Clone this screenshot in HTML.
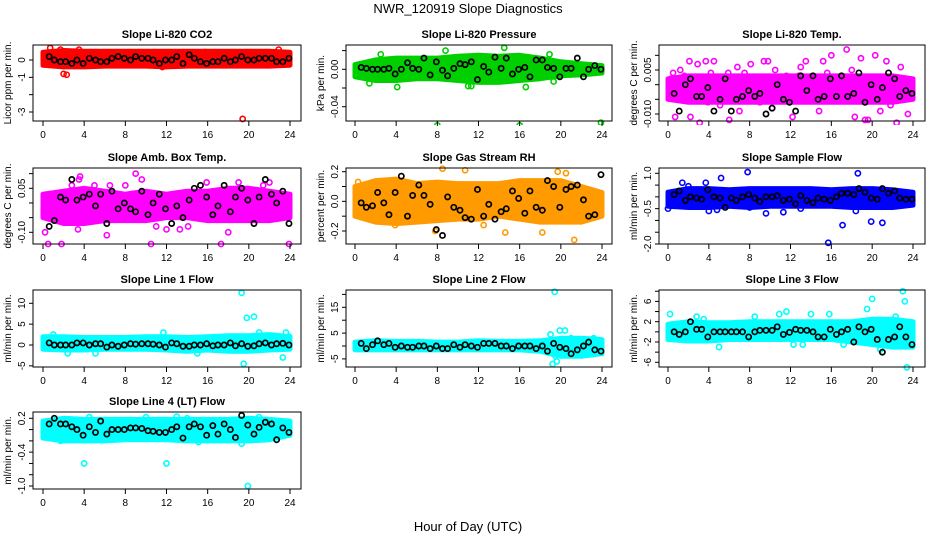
<!DOCTYPE html>
<html><head><meta charset="utf-8"><style>
body{margin:0;background:#fff;}
svg{display:block;font-family:"Liberation Sans",sans-serif;}
</style></head><body>
<svg id="chart" width="936" height="540" viewBox="0 0 936 540" xmlns="http://www.w3.org/2000/svg">
<rect width="936" height="540" fill="#fff"/>
<text x="468" y="13" text-anchor="middle" font-size="13">NWR_120919  Slope Diagnostics</text>
<text x="468" y="531" text-anchor="middle" font-size="13">Hour of Day (UTC)</text>
</svg>
<script>
const xTickVals = [0,4,8,12,16,20,24];
const bandHours = [0,2,4,6,8,10,12,14,16,18,20,22,24];
const blackHours = [0.6,1.1,1.7,2.2,2.8,3.3,3.9,4.5,5.1,5.6,6.2,6.7,7.3,7.9,8.5,9.0,9.6,10.2,10.7,11.3,11.9,12.5,13.0,13.6,14.2,14.7,15.3,15.9,16.5,17.0,17.6,18.2,18.7,19.3,19.9,20.5,21.0,21.6,22.2,22.7,23.3,23.9];

const p1Hi=[0.45,0.55,0.5,0.5,0.5,0.5,0.5,0.5,0.5,0.5,0.5,0.5,0.45];
const p1Lo=[-0.3,-0.4,-0.4,-0.35,-0.35,-0.35,-0.4,-0.35,-0.35,-0.35,-0.35,-0.35,-0.3];
const p1OutX=[0.7,1.7,2.0,2.3,3.5,19.4,22.9,11.6,15.8];
const p1OutY=[0.7,0.6,-0.8,-0.85,0.6,-3.4,0.6,-0.4,0.45];
const p1Black=[0.2,0.0,-0.1,-0.1,-0.2,0.0,-0.2,0.1,0.0,-0.1,-0.1,0.1,0.2,0.1,0.0,0.2,0.1,0.1,0.0,-0.2,0.0,0.0,0.2,-0.2,0.3,0.1,-0.1,-0.2,-0.1,-0.1,0.1,-0.1,0.0,0.2,0.0,0.0,0.1,0.1,0.1,-0.1,-0.1,0.1];

const p2Hi=[0.005,0.01,0.012,0.012,0.012,0.014,0.015,0.014,0.015,0.012,0.008,0.006,0.004];
const p2Lo=[-0.008,-0.012,-0.012,-0.01,-0.01,-0.012,-0.014,-0.014,-0.012,-0.01,-0.007,-0.006,-0.004];
const p2OutX=[8,16,23.9,4.1,11.0,11.3,14.5,8.8,16.6,2.5,18.9,19.3,1.4];
const p2OutY=[-0.06,-0.06,-0.057,-0.019,-0.018,-0.018,0.023,0.02,-0.019,0.016,0.016,-0.013,-0.015];
const p2Black=[0.002,0.001,0.0,0.0,0.0,0.001,-0.005,0.0,0.007,0.001,0.0,0.012,-0.006,0.008,-0.001,-0.007,0.001,0.006,0.005,0.008,-0.011,0.003,-0.003,0.013,0.001,0.012,-0.005,0.0,0.002,-0.008,0.01,0.01,0.002,0.001,-0.008,0.001,0.001,0.012,-0.008,0.0,0.004,0.0];

const p3Hi=[0.002,0.003,0.003,0.003,0.003,0.003,0.003,0.003,0.003,0.003,0.003,0.003,0.002];
const p3Lo=[-0.005,-0.006,-0.006,-0.006,-0.006,-0.006,-0.006,-0.006,-0.006,-0.006,-0.006,-0.006,-0.005];
const p3OutX=[0.5,0.7,1.2,1.6,2.1,2.2,2.9,3.1,3.7,3.9,4.5,5.1,5.9,6.0,6.8,7.5,8.1,9.4,9.8,10.2,11.6,12.2,13.5,14.8,15.2,16.0,16.6,17.5,18.3,18.9,19.3,19.6,20.3,20.8,21.4,22.4,22.8,23.5,0.3,4.2,7.0,10.5,13.0,15.6,18.0,21.8,23.0,5.5,9.0,12.8];
const p3OutY=[0.004,-0.011,0.005,0.003,0.008,-0.011,0.007,-0.013,0.008,-0.006,0.008,-0.007,0.004,-0.012,0.006,0.004,0.007,0.008,0.008,-0.008,0.003,-0.011,0.008,-0.009,0.008,0.010,-0.003,0.012,-0.011,0.009,-0.012,-0.012,0.010,-0.009,0.008,-0.013,0.006,-0.010,0.002,0.004,-0.009,0.005,0.006,0.004,0.005,-0.007,0.002,-0.005,-0.006,0.003];
const p3Black=[-0.003,-0.009,0.0,0.002,-0.004,-0.004,-0.001,-0.009,-0.005,0.002,-0.009,-0.005,-0.004,-0.002,-0.004,-0.003,-0.010,-0.008,0.0,-0.005,-0.006,-0.009,0.003,-0.002,0.003,-0.005,-0.004,0.002,-0.004,0.003,-0.004,-0.003,0.004,-0.006,0.0,-0.005,-0.001,0.004,0.002,-0.004,-0.002,-0.003];

const p4Hi=[0.03,0.04,0.05,0.04,0.03,0.04,0.03,0.04,0.04,0.05,0.05,0.04,0.03];
const p4Lo=[-0.05,-0.07,-0.07,-0.06,-0.06,-0.06,-0.05,-0.05,-0.06,-0.06,-0.06,-0.06,-0.05];
const p4OutX=[0.2,0.5,1.8,3.4,3.6,4.6,3.5,6.2,9.0,9.6,10.5,15.9,17.3,18.0,23.9,2.8,6.5,13.3,21.4,22.0,8.0,11.0,14.1,19.0,12.0,5.0];
const p4OutY=[-0.1,-0.14,-0.14,-0.09,0.09,-0.17,0.08,-0.11,0.1,0.08,-0.14,0.07,-0.14,-0.1,-0.14,0.06,0.06,-0.09,0.06,0.07,0.06,-0.08,-0.08,0.07,-0.09,0.06];
const p4Black=[-0.08,-0.06,0.02,0.01,0.08,0.01,0.02,0.03,-0.01,0.03,-0.07,0.04,-0.02,0.0,-0.02,-0.03,0.04,-0.04,0.0,0.03,-0.02,-0.07,-0.01,-0.05,0.01,0.05,0.06,0.02,-0.04,-0.01,0.06,-0.03,0.02,0.05,0.01,-0.07,0.02,0.08,0.03,0.0,0.04,-0.07];

const p5Hi=[0.1,0.14,0.15,0.12,0.13,0.12,0.12,0.12,0.14,0.14,0.14,0.1,0.06];
const p5Lo=[-0.1,-0.14,-0.15,-0.14,-0.13,-0.12,-0.12,-0.1,-0.12,-0.14,-0.14,-0.14,-0.1];
const p5OutX=[8.5,10.7,14.6,18.2,20.5,21.3,7.8,0.3,3.9,12.5,19.7];
const p5OutY=[0.22,0.21,-0.21,-0.21,0.19,-0.26,-0.2,0.13,-0.16,-0.16,0.2];
const p5Black=[-0.01,-0.04,-0.03,0.06,-0.01,-0.09,0.06,0.17,-0.10,0.04,0.11,0.04,-0.02,-0.19,-0.23,0.03,-0.04,-0.06,-0.11,-0.12,0.08,-0.1,-0.02,-0.12,-0.07,-0.05,0.07,0.02,-0.08,0.07,-0.04,-0.06,0.14,0.1,-0.04,0.08,0.1,0.11,0.01,-0.1,-0.09,0.18];

const p6Hi=[0.2,0.35,0.35,0.3,0.35,0.35,0.35,0.35,0.3,0.35,0.35,0.3,0.2];
const p6Lo=[-0.4,-0.45,-0.45,-0.4,-0.45,-0.4,-0.4,-0.4,-0.4,-0.45,-0.45,-0.45,-0.35];
const p6OutX=[0,1.4,5.2,7.8,3.7,4.0,9.6,11.3,15.7,17.1,18.4,18.6,19.9,21.0,2.0,8.0,13.0,4.8];
const p6OutY=[-0.5,0.6,0.8,1.05,0.6,-0.6,-0.7,-0.65,-1.95,-1.2,-0.6,1.0,-1.05,-1.1,0.45,-0.45,-0.5,-0.55];
const p6Black=[0.1,0.25,-0.15,0.0,-0.05,-0.1,0.3,0.0,-0.05,-0.45,-0.05,-0.15,0.0,0.1,-0.05,-0.2,0.0,0.0,0.05,-0.15,-0.1,-0.3,0.05,-0.15,-0.25,-0.05,-0.1,-0.15,0.0,0.15,0.15,0.1,0.35,0.2,-0.05,-0.1,0.35,0.15,0.25,-0.05,-0.1,-0.1];

const p7Hi=[2,2,1.8,1.8,1.8,2,2,1.8,2,2.2,2.2,2.5,2];
const p7Lo=[-1,-1.2,-1.2,-1,-1,-1,-1.2,-1.5,-1.2,-1.5,-1.5,-1.2,-1];
const p7OutX=[19.3,19.8,20.5,23.3,19.5,2.4,5.1,11.7,15.0,1.0,23.6,21.0,23.9];
const p7OutY=[12.5,6.5,6.8,-3,-4.5,-2,-2,3,-2,2.5,3,3,2];
const p7Black=[0.5,0,0,0,0,0.5,0.5,0,0.3,0.3,-0.5,0,-0.3,0,0.3,0.2,0.3,0.3,0.2,0,-0.5,0.5,0.3,-0.3,-0.3,0,0,0.3,-0.2,0,0,0.5,-0.2,0.3,-0.3,-0.2,0.3,0.5,0,0.3,0.4,0];

const p8Hi=[1.5,2,1.8,1.8,1.5,1.5,2,1.8,1.8,2,3,3,2.5];
const p8Lo=[-1.5,-1.5,-1.5,-1.5,-1.5,-1.5,-1.5,-1.5,-1.5,-2,-4,-4,-3];
const p8OutX=[19.4,19.2,19.5,19.6,19.9,20.4,21.0,21.4,22.2,23.2,19.0];
const p8OutY=[21,-7,-4,-6,6,6,3,2,2,3,4.5];
const p8Black=[1,-1,0.5,2,0.5,1,-0.5,0,-0.5,-0.5,0,0,-1,0,-1,-1,0.5,-0.5,0.5,0,-0.5,1,1,1,0,0,-1,0,0,0,-1,0,-2,1,-0.5,-1,-3,-1.5,0,1.5,-1.5,-2];

const p9Hi=[1.5,2,1.8,1.8,2,2,2,2,2,2,2.5,2.5,2];
const p9Lo=[-1.5,-1.8,-1.8,-1.5,-1.5,-1.5,-1.5,-1.5,-1.5,-2,-2.5,-3,-3];
const p9OutX=[0.2,2.8,5.0,8.5,10.9,11.6,12.3,14.0,15.8,17.2,19.5,20.0,21.0,22.3,23.0,23.2,23.4,20.8,3.5,13.2];
const p9OutY=[3.5,3,-3,3,3.5,4,-2.5,3.5,3.5,-2.5,4.5,6.5,-4,3,8,6,-7,-3.5,2.5,-2.5];
const p9Black=[0,-0.5,0,2,0.5,0.5,-1,0,0,0,0,0,0,-1,0,0.3,0.3,0.3,1,-0.5,-0.1,0.5,0.3,0.3,0,-1,-1,0.5,-0.5,0,0.5,-2,1,0,0.5,-1.5,-4,-1.5,-1,1,-1,-2.5];

const p10Hi=[0.15,0.2,0.18,0.18,0.18,0.18,0.18,0.18,0.18,0.18,0.2,0.18,0.15];
const p10Lo=[-0.15,-0.2,-0.2,-0.2,-0.18,-0.18,-0.18,-0.2,-0.2,-0.2,-0.2,-0.18,-0.1];
const p10OutX=[4,12,19.9,4.5,13,14,15.1,19.3,1.7,10,21];
const p10OutY=[-0.6,-0.6,-1.0,0.22,0.23,0.2,-0.22,-0.25,-0.2,0.22,0.22];
const p10Black=[0.1,0.2,0.1,0.1,0.05,0.0,-0.1,0.05,-0.05,0.15,-0.08,0.0,0.0,0.0,0.03,0.03,0.02,-0.02,-0.03,-0.05,-0.05,0.0,0.05,-0.15,0.05,0.1,0.05,-0.1,0.07,-0.08,0.1,0.0,-0.14,0.25,0.08,-0.08,0.04,0.13,0.1,-0.18,0.03,-0.05];

const NS="http://www.w3.org/2000/svg";
const svg=document.getElementById('chart');
function mk(tag,attrs,parent){const e=document.createElementNS(NS,tag);for(const k in attrs)e.setAttribute(k,attrs[k]);(parent||svg).appendChild(e);return e;}

const cols=[{l:33,r:301,x0:43,x24:290},{l:346,r:612,x0:355,x24:602},{l:659,r:925,x0:668,x24:913}];
const rows=[{t:45,b:121},{t:168,b:244},{t:290,b:367},{t:412,b:489}];

const panels=[
 {id:'co2',title:'Slope Li-820 CO2',ylab:'Licor ppm per min.',c:0,r:0,col:'#ff0000',v1:0,p1:60,v2:-3,p2:112,ticks:[0,-1,-2,-3],labs:[[0,'0'],[-1,'-1'],[-3,'-3']],hi:p1Hi,lo:p1Lo,ox:p1OutX,oy:p1OutY,by:p1Black},
 {id:'pressure',title:'Slope Li-820 Pressure',ylab:'kPa per min.',c:1,r:0,col:'#00d000',v1:0,p1:69.3,v2:-0.04,p2:106.7,ticks:[0.02,0,-0.02,-0.04],labs:[[0,'0.00'],[-0.04,'-0.04']],hi:p2Hi,lo:p2Lo,ox:p2OutX,oy:p2OutY,by:p2Black},
 {id:'temp',title:'Slope Li-820 Temp.',ylab:'degrees C per min.',c:2,r:0,col:'#ff00ff',v1:0.005,p1:70,v2:-0.01,p2:114,ticks:[0.01,0.005,0,-0.005,-0.01],labs:[[0.005,'0.005'],[-0.01,'-0.010']],hi:p3Hi,lo:p3Lo,ox:p3OutX,oy:p3OutY,by:p3Black},
 {id:'amb-box-temp',title:'Slope Amb. Box Temp.',ylab:'degrees C per min.',c:0,r:1,col:'#ff00ff',v1:0.05,p1:188.3,v2:-0.1,p2:232.3,ticks:[0.1,0.05,0,-0.05,-0.1],labs:[[0.05,'0.05'],[-0.1,'-0.10']],hi:p4Hi,lo:p4Lo,ox:p4OutX,oy:p4OutY,by:p4Black},
 {id:'gas-stream-rh',title:'Slope Gas Stream RH',ylab:'percent per min.',c:1,r:1,col:'#ff9a00',v1:0.2,p1:171.7,v2:-0.2,p2:231,ticks:[0.2,0.1,0,-0.1,-0.2],labs:[[0.2,'0.2'],[0,'0.0'],[-0.2,'-0.2']],hi:p5Hi,lo:p5Lo,ox:p5OutX,oy:p5OutY,by:p5Black},
 {id:'sample-flow',title:'Slope Sample Flow',ylab:'ml/min per min.',c:2,r:1,col:'#0000ff',v1:1,p1:173.3,v2:-2,p2:244,ticks:[1,0.5,0,-0.5,-1,-1.5,-2],labs:[[1,'1.0'],[-0.5,'-0.5'],[-2,'-2.0']],hi:p6Hi,lo:p6Lo,ox:p6OutX,oy:p6OutY,by:p6Black},
 {id:'line1-flow',title:'Slope Line 1 Flow',ylab:'ml/min per min.',c:0,r:2,col:'#00ffff',v1:10,p1:303.3,v2:0,p2:345,ticks:[10,5,0,-5],labs:[[10,'10'],[5,'5'],[0,'0'],[-5,'-5']],hi:p7Hi,lo:p7Lo,ox:p7OutX,oy:p7OutY,by:p7Black},
 {id:'line2-flow',title:'Slope Line 2 Flow',ylab:'ml/min per min.',c:1,r:2,col:'#00ffff',v1:15,p1:307.3,v2:0,p2:346,ticks:[20,15,10,5,0,-5],labs:[[15,'15'],[5,'5'],[-5,'-5']],hi:p8Hi,lo:p8Lo,ox:p8OutX,oy:p8OutY,by:p8Black},
 {id:'line3-flow',title:'Slope Line 3 Flow',ylab:'ml/min per min.',c:2,r:2,col:'#00ffff',v1:2,p1:321.7,v2:-2,p2:342,ticks:[8,6,4,2,0,-2,-4,-6],labs:[[6,'6'],[2,'2'],[-2,'-2'],[-6,'-6']],hi:p9Hi,lo:p9Lo,ox:p9OutX,oy:p9OutY,by:p9Black},
 {id:'line4-flow',title:'Slope Line 4 (LT) Flow',ylab:'ml/min per min.',c:0,r:3,col:'#00ffff',v1:0.2,p1:418.3,v2:-1,p2:486,ticks:[0.2,0,-0.2,-0.4,-0.6,-0.8,-1.0],labs:[[0.2,'0.2'],[-0.4,'-0.4'],[-1,'-1.0']],hi:p10Hi,lo:p10Lo,ox:p10OutX,oy:p10OutY,by:p10Black}
];

panels.forEach(P=>{
  const C=cols[P.c],R=rows[P.r];
  const xs=h=>C.x0+(C.x24-C.x0)*h/24;
  const ys=v=>P.p1+(P.p2-P.p1)*(v-P.v1)/(P.v2-P.v1);
  const g=mk('g',{});
  
  
  const clipId='clip-'+P.id;
  const cp=mk('clipPath',{id:clipId},g);
  mk('rect',{x:C.l-4,y:R.t-4,width:C.r-C.l+8,height:R.b-R.t+8},cp);
  const t=mk('text',{x:(C.l+C.r)/2,y:R.t-7,'text-anchor':'middle','font-size':'11','font-weight':'bold'},g);
  t.textContent=P.title;
  
  
  const plot=mk('g',{'clip-path':'url(#'+clipId+')'},g);
  // band
  let d='';
  bandHours.forEach((h,i)=>{d+=(i?'L':'M')+xs(h).toFixed(1)+','+ys(P.hi[i]).toFixed(1);});
  for(let i=bandHours.length-1;i>=0;i--)d+='L'+xs(bandHours[i]).toFixed(1)+','+ys(P.lo[i]).toFixed(1);
  const band=mk('path',{d:d+'Z',fill:P.col,stroke:P.col,'stroke-width':'5','stroke-linejoin':'round'},plot);
  
  
  P.ox.forEach((h,i)=>{
    const c=mk('circle',{cx:xs(h),cy:ys(P.oy[i]),r:2.6,fill:'none',stroke:P.col,'stroke-width':1.6},plot);
    
    
  });
  blackHours.forEach((h,i)=>{
    const c=mk('circle',{cx:xs(h),cy:ys(P.by[i]),r:2.6,fill:'none',stroke:'#000','stroke-width':1.7},plot);
    
    
  });
  const box=mk('rect',{x:C.l,y:R.t,width:C.r-C.l,height:R.b-R.t,fill:'none',stroke:'#000','stroke-width':1},g);
  
  
  // x axis
  mk('line',{x1:xs(0),x2:xs(24),y1:R.b,y2:R.b,stroke:'#000'},g);
  xTickVals.forEach(v=>{
    mk('line',{x1:xs(v),x2:xs(v),y1:R.b,y2:R.b+5,stroke:'#000'},g);
    const tl=mk('text',{x:xs(v),y:R.b+17,'text-anchor':'middle','font-size':'10'},g);
    tl.textContent=v;
    
    
  });
  // y axis
  P.ticks.forEach(v=>{mk('line',{x1:C.l-4,x2:C.l,y1:ys(v),y2:ys(v),stroke:'#000'},g);});
  P.labs.forEach(([v,s])=>{
    const yl=mk('text',{x:0,y:0,'text-anchor':'middle','font-size':'10',transform:'translate('+(C.l-8)+','+ys(v)+') rotate(-90)'},g);
    yl.textContent=s;
    
    
  });
  const yt=mk('text',{x:0,y:0,'text-anchor':'middle','font-size':'10',transform:'translate('+(C.l-22)+','+((R.t+R.b)/2)+') rotate(-90)'},g);
  yt.textContent=P.ylab;
  
  
});
</script>
</body></html>
